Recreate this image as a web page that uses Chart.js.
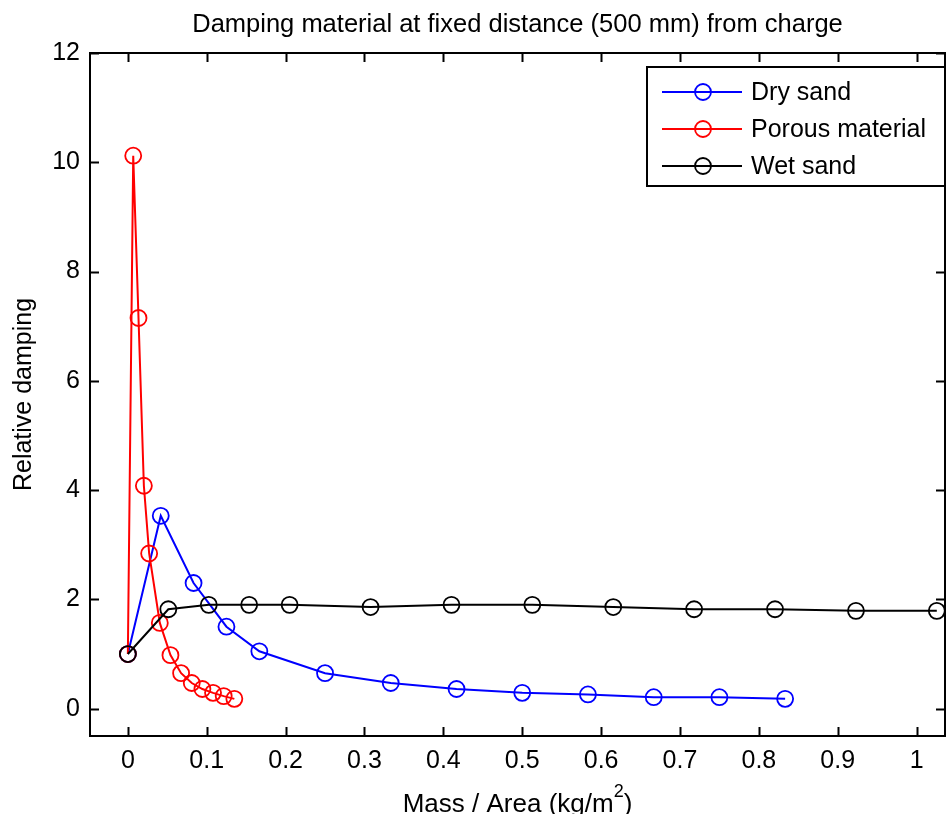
<!DOCTYPE html>
<html>
<head>
<meta charset="utf-8">
<script src="https://cdn.jsdelivr.net/npm/chart.js@4"></script>
<style>
  body { margin: 0; background: #fff; }
  canvas { display: block; }
</style>
</head>
<body>
<canvas id="dampChart" width="951" height="814"></canvas>
<script>
// data
const drySandX = [0, 0.0417, 0.0833, 0.125, 0.1667, 0.25, 0.3333, 0.4167, 0.5, 0.5833, 0.6667, 0.75, 0.8333];
const drySandY = [1.0, 3.53, 2.3, 1.5, 1.05, 0.65, 0.47, 0.36, 0.29, 0.26, 0.21, 0.21, 0.18];

const porousX = [0, 0.0068, 0.0135, 0.0203, 0.027, 0.0405, 0.054, 0.0675, 0.081, 0.0945, 0.108, 0.1215, 0.135];
const porousY = [1.0, 10.12, 7.15, 4.08, 2.84, 1.57, 0.98, 0.65, 0.47, 0.36, 0.29, 0.23, 0.18];

const wetSandX = [0, 0.0513, 0.1026, 0.1538, 0.2051, 0.3077, 0.4103, 0.5128, 0.6154, 0.7179, 0.8205, 0.9231, 1.0256];
const wetSandY = [1.0, 1.82, 1.9, 1.9, 1.9, 1.86, 1.9, 1.9, 1.86, 1.82, 1.82, 1.79, 1.79];

const seriesNames = ['Dry sand', 'Porous material', 'Wet sand'];
const xTicks = [0, 0.1, 0.2, 0.3, 0.4, 0.5, 0.6, 0.7, 0.8, 0.9, 1];
const xTickLabels = ['0', '0.1', '0.2', '0.3', '0.4', '0.5', '0.6', '0.7', '0.8', '0.9', '1'];
const yTicks = [0, 2, 4, 6, 8, 10, 12];
const yTickLabels = ['0', '2', '4', '6', '8', '10', '12'];

const FONT = '"Liberation Sans", Arial, sans-serif';

function pts(xs, ys) {
    return xs.map((x, i) => ({ x: x, y: ys[i] }));
}

function series(label, xs, ys, color, order) {
    return {
        label: label,
        data: pts(xs, ys),
        borderColor: color,
        backgroundColor: 'transparent',
        pointBorderColor: color,
        pointBackgroundColor: 'transparent',
        pointRadius: 8,
        pointBorderWidth: 1.8,
        borderWidth: 2,
        showLine: true,
        tension: 0,
        order: order
    };
}

// matlab style axes box, inward ticks, labels and legend
const matlabAxes = {
    id: 'matlabAxes',
    afterDraw(chart) {
        const ctx = chart.ctx;
        const a = chart.chartArea;
        const xs = chart.scales.x;
        const ys = chart.scales.y;
        ctx.save();
        ctx.strokeStyle = '#000';
        ctx.fillStyle = '#000';
        ctx.lineWidth = 2;
        ctx.strokeRect(a.left, a.top, a.right - a.left, a.bottom - a.top);

        const tl = 9;
        ctx.beginPath();
        xTicks.forEach(v => {
            const px = Math.round(xs.getPixelForValue(v)) + 0.5;
            ctx.moveTo(px, a.bottom); ctx.lineTo(px, a.bottom - tl);
            ctx.moveTo(px, a.top); ctx.lineTo(px, a.top + tl);
        });
        yTicks.forEach(v => {
            const py = Math.round(ys.getPixelForValue(v)) + 0.5;
            ctx.moveTo(a.left, py); ctx.lineTo(a.left + tl, py);
            ctx.moveTo(a.right, py); ctx.lineTo(a.right - tl, py);
        });
        ctx.stroke();

        ctx.font = '25px ' + FONT;
        ctx.textAlign = 'center';
        ctx.textBaseline = 'middle';
        xTicks.forEach((v, i) => {
            ctx.fillText(xTickLabels[i], xs.getPixelForValue(v), a.bottom + 25);
        });
        ctx.textAlign = 'right';
        yTicks.forEach((v, i) => {
            ctx.fillText(yTickLabels[i], a.left - 10, ys.getPixelForValue(v));
        });

        // title
        const cx = (a.left + a.right) / 2;
        ctx.textAlign = 'center';
        ctx.font = '25.5px ' + FONT;
        ctx.fillText('Damping material at fixed distance (500 mm) from charge', cx, 25);

        // x label with superscript
        ctx.font = '26px ' + FONT;
        const main = 'Mass / Area (kg/m';
        const w1 = ctx.measureText(main).width;
        ctx.font = '18px ' + FONT;
        const w2 = ctx.measureText('2').width;
        ctx.font = '26px ' + FONT;
        const w3 = ctx.measureText(')').width;
        let sx = cx - (w1 + w2 + w3) / 2;
        ctx.textAlign = 'left';
        ctx.textBaseline = 'alphabetic';
        ctx.fillText(main, sx, 812);
        ctx.font = '18px ' + FONT;
        ctx.fillText('2', sx + w1, 797);
        ctx.font = '26px ' + FONT;
        ctx.fillText(')', sx + w1 + w2, 812);

        // y label
        ctx.save();
        ctx.translate(24, (a.top + a.bottom) / 2);
        ctx.rotate(-Math.PI / 2);
        ctx.textAlign = 'center';
        ctx.textBaseline = 'middle';
        ctx.font = '25px ' + FONT;
        ctx.fillText('Relative damping', 0, 0);
        ctx.restore();

        // legend
        const lx = 647, ly = 67, lw = 298, lh = 119;
        ctx.fillStyle = '#fff';
        ctx.fillRect(lx, ly, lw, lh);
        ctx.strokeStyle = '#000';
        ctx.lineWidth = 2;
        ctx.strokeRect(lx, ly, lw, lh);
        const rows = [92, 129, 166];
        chart.data.datasets.forEach((ds, i) => {
            const ry = rows[i];
            ctx.strokeStyle = ds.borderColor;
            ctx.lineWidth = 2;
            ctx.beginPath();
            ctx.moveTo(662, ry); ctx.lineTo(742, ry);
            ctx.stroke();
            ctx.lineWidth = 1.8;
            ctx.beginPath();
            ctx.arc(703, ry, 8, 0, Math.PI * 2);
            ctx.stroke();
            ctx.fillStyle = '#000';
            ctx.font = '25px ' + FONT;
            ctx.textAlign = 'left';
            ctx.textBaseline = 'middle';
            ctx.fillText(seriesNames[i], 751, ry + 1);
        });
        ctx.restore();
    }
};

const dampCtx = document.getElementById('dampChart').getContext('2d');
const dampChart = new Chart(dampCtx, {
    type: 'scatter',
    data: {
        datasets: [
            series(seriesNames[0], drySandX, drySandY, '#0000ff', 3),
            series(seriesNames[1], porousX, porousY, '#ff0000', 2),
            series(seriesNames[2], wetSandX, wetSandY, '#000000', 1)
        ]
    },
    options: {
        responsive: false,
        animation: false,
        layout: {
            autoPadding: false,
            padding: { left: 90, right: 6, top: 53, bottom: 78 }
        },
        plugins: {
            legend: { display: false },
            tooltip: { enabled: false },
            title: { display: false }
        },
        scales: {
            x: { type: 'linear', min: -0.048, max: 1.036, display: false },
            y: { type: 'linear', min: -0.5, max: 12, display: false }
        }
    },
    plugins: [matlabAxes]
});
</script>
</body>
</html>
